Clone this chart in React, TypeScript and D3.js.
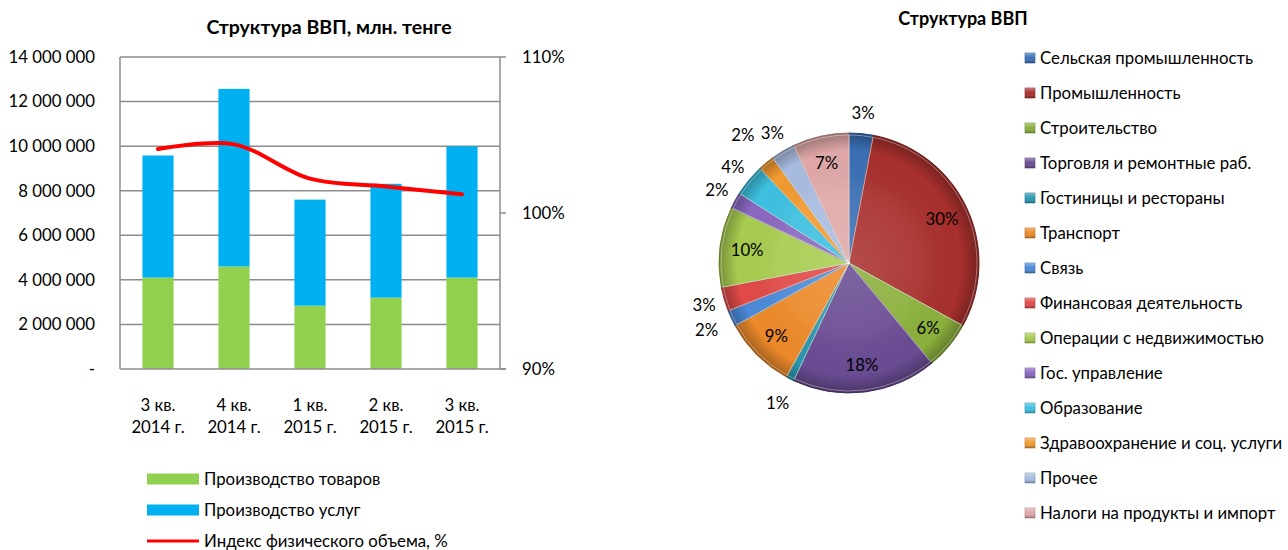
import React, { useEffect, useRef } from 'react';
import * as d3 from 'd3';

// left chart: quarterly GDP, mln tenge
const quarters = ['3 кв. 2014 г.', '4 кв. 2014 г.', '1 кв. 2015 г.', '2 кв. 2015 г.', '3 кв. 2015 г.'];
const quarterLines = [['3 кв.', '2014 г.'], ['4 кв.', '2014 г.'], ['1 кв.', '2015 г.'], ['2 кв.', '2015 г.'], ['3 кв.', '2015 г.']];
const goods = [4100000, 4600000, 2840000, 3200000, 4100000];
const services = [5480000, 7970000, 4760000, 5110000, 5890000];
const volumeIndex = [104.1, 104.4, 102.2, 101.7, 101.2];
const leftTicks = [0, 2000000, 4000000, 6000000, 8000000, 10000000, 12000000, 14000000];
const rightTicks = [90, 100, 110];
const barLegend = ['Производство товаров', 'Производство услуг', 'Индекс физического объема, %'];

// right chart: GDP structure
const sectors = [
  'Сельская промышленность', 'Промышленность', 'Строительство', 'Торговля и ремонтные раб.',
  'Гостиницы и рестораны', 'Транспорт', 'Связь', 'Финансовая деятельность',
  'Операции с недвижимостью', 'Гос. управление', 'Образование', 'Здравоохранение и соц. услуги',
  'Прочее', 'Налоги на продукты и импорт',
];
const shares = [3, 30, 6, 18, 1, 9, 2, 3, 10, 2, 4, 2, 3, 7];
const sectorColors = [
  '#3a6fb5', '#a8302d', '#8bb03c', '#6a4c93', '#2a98b0', '#ec8a2a', '#4a8ad8',
  '#e04a48', '#a8cc50', '#8a68c0', '#3ec0e0', '#f39a30', '#a8bce0', '#e0a8a8',
];

const FONT = 'Lato, "Noto Sans", sans-serif';

const App: React.FC = () => {
  const svgRef = useRef<SVGSVGElement>(null);

  useEffect(() => {
    if (!svgRef.current) return;
    const svg = d3.select(svgRef.current);
    svg.selectAll('*').remove();
    svg.attr('font-family', FONT);

    const ru = d3.formatLocale({ thousands: '\u00a0', grouping: [3], decimal: ',', currency: ['', ''] });
    const fmt = ru.format(',d');

    // ---- bar + line chart
    const top = 57, bottom = 369, left = 120, right = 500;
    const x = d3.scaleBand<string>().domain(quarters).range([left, right]).paddingInner(0.59).paddingOuter(0.295);
    const y = d3.scaleLinear().domain([0, 14000000]).range([bottom, top]);
    const yR = d3.scaleLinear().domain([90, 110]).range([bottom, top]);
    const axisCol = '#8c8c8c';

    const g = svg.append('g');

    g.append('text').attr('x', 329).attr('y', 27).attr('dy', '0.35em').attr('text-anchor', 'middle')
      .attr('font-size', 19.5).attr('font-weight', 'bold').text('Структура ВВП, млн. тенге');

    g.selectAll('.grid').data(leftTicks.slice(1)).enter().append('line')
      .attr('x1', left).attr('x2', right).attr('y1', d => y(d)).attr('y2', d => y(d))
      .attr('stroke', axisCol).attr('stroke-width', 1.5);

    g.selectAll('.ylab').data(leftTicks).enter().append('text')
      .attr('x', 95).attr('y', d => y(d)).attr('dy', '0.35em').attr('text-anchor', 'end')
      .attr('font-size', 16.8)
      .text(d => (d === 0 ? '-' : fmt(d)));

    // right axis
    g.selectAll('.rtick').data(rightTicks).enter().append('line')
      .attr('x1', right).attr('x2', right + 6).attr('y1', d => yR(d)).attr('y2', d => yR(d))
      .attr('stroke', axisCol).attr('stroke-width', 1.5);
    g.selectAll('.rlab').data(rightTicks).enter().append('text')
      .attr('x', 522).attr('y', d => yR(d)).attr('dy', '0.35em')
      .attr('font-size', 16.8).text(d => d + '%');

    // stacked bars
    g.selectAll('.goods').data(quarters).enter().append('rect')
      .attr('x', d => x(d)!).attr('width', x.bandwidth())
      .attr('y', (_, i) => y(goods[i])).attr('height', (_, i) => y(0) - y(goods[i]))
      .attr('fill', '#92d050');
    g.selectAll('.serv').data(quarters).enter().append('rect')
      .attr('x', d => x(d)!).attr('width', x.bandwidth())
      .attr('y', (_, i) => y(goods[i] + services[i])).attr('height', (_, i) => y(goods[i]) - y(goods[i] + services[i]))
      .attr('fill', '#00b0f0');

    // frame
    g.append('line').attr('x1', left).attr('x2', left).attr('y1', top).attr('y2', bottom).attr('stroke', axisCol).attr('stroke-width', 1.5);
    g.append('line').attr('x1', right).attr('x2', right).attr('y1', top).attr('y2', bottom).attr('stroke', axisCol).attr('stroke-width', 1.5);
    g.append('line').attr('x1', left).attr('x2', right + 6).attr('y1', bottom).attr('y2', bottom).attr('stroke', axisCol).attr('stroke-width', 1.5);

    // index line (smoothed)
    const line = d3.line<number>()
      .x((_, i) => x(quarters[i])! + x.bandwidth() / 2)
      .y(d => yR(d))
      .curve(d3.curveCatmullRom.alpha(0.5));
    g.append('path').datum(volumeIndex).attr('d', line).attr('fill', 'none')
      .attr('stroke', '#ff0000').attr('stroke-width', 4).attr('stroke-linecap', 'round');

    // x labels
    const xl = g.selectAll('.xlab').data(quarters).enter().append('text')
      .attr('text-anchor', 'middle').attr('font-size', 16.8);
    xl.append('tspan').attr('x', d => x(d)! + x.bandwidth() / 2).attr('y', 405).attr('dy', '0.35em')
      .text((_, i) => quarterLines[i][0]);
    xl.append('tspan').attr('x', d => x(d)! + x.bandwidth() / 2).attr('y', 427).attr('dy', '0.35em')
      .text((_, i) => quarterLines[i][1]);

    // bottom legend
    const legY = [479, 510, 541];
    barLegend.forEach((label, i) => {
      if (i < 2) {
        g.append('rect').attr('x', 147).attr('y', legY[i] - 5.5).attr('width', 52).attr('height', 11)
          .attr('fill', i === 0 ? '#92d050' : '#00b0f0');
      } else {
        g.append('line').attr('x1', 147).attr('x2', 199).attr('y1', legY[i]).attr('y2', legY[i])
          .attr('stroke', '#ff0000').attr('stroke-width', 3);
      }
      g.append('text').attr('x', 204).attr('y', legY[i]).attr('dy', '0.33em').attr('font-size', 16.8).text(label);
    });

    // ---- pie
    const cx = 849, cy = 263, r = 130;
    const p = svg.append('g');
    p.append('text').attr('x', 963).attr('y', 19).attr('dy', '0.35em').attr('text-anchor', 'middle')
      .attr('font-size', 18).attr('font-weight', 'bold').text('Структура ВВП');

    const defs = svg.append('defs');
    const rg = defs.append('radialGradient').attr('id', 'bevel')
      .attr('gradientUnits', 'userSpaceOnUse').attr('cx', 0).attr('cy', 0).attr('r', r);
    rg.append('stop').attr('offset', '0%').attr('stop-color', '#fff').attr('stop-opacity', 0.14);
    rg.append('stop').attr('offset', '55%').attr('stop-color', '#fff').attr('stop-opacity', 0.06);
    rg.append('stop').attr('offset', '86%').attr('stop-color', '#000').attr('stop-opacity', 0);
    rg.append('stop').attr('offset', '100%').attr('stop-color', '#000').attr('stop-opacity', 0.3);

    const sq = defs.append('linearGradient').attr('id', 'sq').attr('x1', 0).attr('y1', 0).attr('x2', 0).attr('y2', 1);
    sq.append('stop').attr('offset', '0%').attr('stop-color', '#fff').attr('stop-opacity', 0.35);
    sq.append('stop').attr('offset', '50%').attr('stop-color', '#fff').attr('stop-opacity', 0);
    sq.append('stop').attr('offset', '100%').attr('stop-color', '#000').attr('stop-opacity', 0.3);

    const pie = d3.pie<number>().sort(null).value(d => d);
    const arcs = pie(shares);
    const arc = d3.arc<d3.PieArcDatum<number>>().innerRadius(0).outerRadius(r);
    const inner = d3.arc<d3.PieArcDatum<number>>().innerRadius(0).outerRadius(r - 2);
    const pg = p.append('g').attr('transform', `translate(${cx},${cy})`);

    pg.selectAll('.slice').data(arcs).enter().append('path')
      .attr('d', arc).attr('fill', (_, i) => sectorColors[i])
      .attr('stroke', (_, i) => d3.color(sectorColors[i])!.darker(0.6).toString()).attr('stroke-width', 1);
    pg.selectAll('.shade').data(arcs).enter().append('path')
      .attr('d', arc).attr('fill', 'url(#bevel)');
    pg.selectAll('.hl').data(arcs).enter().append('path')
      .attr('d', inner).attr('fill', 'none').attr('stroke', 'rgba(255,255,255,0.35)').attr('stroke-width', 1);

    // labels: big slices inside, small ones outside
    pg.selectAll('.plab').data(arcs).enter().append('text')
      .attr('text-anchor', 'middle').attr('dy', '0.35em').attr('font-size', 16.8)
      .attr('transform', (d, i) => {
        const a = (d.startAngle + d.endAngle) / 2;
        const inside = shares[i] >= 5;
        let k = inside ? 0.79 : 1.16;
        if (!inside && i === 11) k = 1.28;
        if (!inside && (i === 4 || i === 6)) k = 1.21;
        return `translate(${Math.sin(a) * r * k},${-Math.cos(a) * r * k})`;
      })
      .text(d => d.data + '%');

    // pie legend
    const lgY = (i: number) => 58 + i * 35;
    sectors.forEach((s, i) => {
      p.append('rect').attr('x', 1025).attr('y', lgY(i) - 5).attr('width', 10).attr('height', 10)
        .attr('fill', sectorColors[i]).attr('stroke', d3.color(sectorColors[i])!.darker(0.8).toString()).attr('stroke-width', 0.6);
      p.append('rect').attr('x', 1025).attr('y', lgY(i) - 5).attr('width', 10).attr('height', 10).attr('fill', 'url(#sq)');
      p.append('text').attr('x', 1040).attr('y', lgY(i)).attr('dy', '0.35em').attr('font-size', 16.8).text(s);
    });
  }, []);

  return (
    <svg ref={svgRef} width={1288} height={550}
      style={{ position: 'absolute', left: 0, top: 0, background: '#fff', display: 'block' }} />
  );
};

export default App;
